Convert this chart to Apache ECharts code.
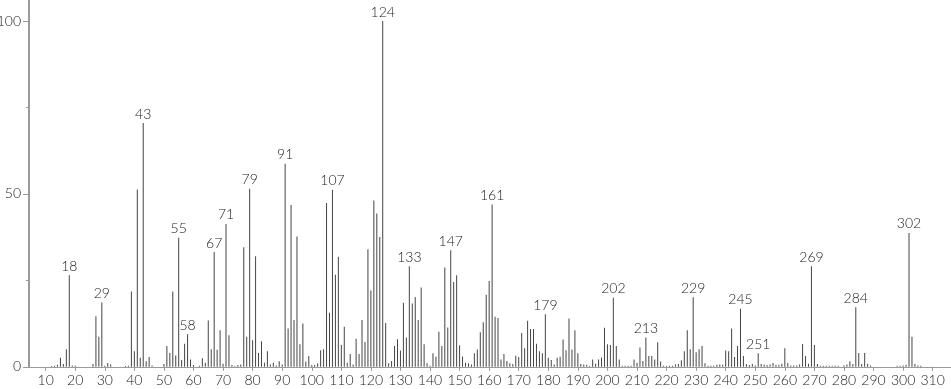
<!DOCTYPE html>
<html>
<head>
<meta charset="utf-8">
<script src="https://cdn.jsdelivr.net/npm/echarts@6/dist/echarts.min.js"></script>
<style>
html,body{margin:0;padding:0;background:#fff;}
#chart{width:951px;height:389px;}
</style>
</head>
<body>
<div id="chart"></div>
<script>
// m/z values
const mz = [12,13,14,15,16,17,18,19,20,26,27,28,29,30,31,32,37,38,39,40,41,42,43,44,45,46,
50,51,52,53,54,55,56,57,58,59,60,62,63,64,65,66,67,68,69,70,71,72,73,74,75,76,77,78,79,80,
81,82,83,84,85,86,87,88,89,90,91,92,93,94,95,96,97,98,99,100,101,102,103,104,105,106,107,108,109,110,
111,112,113,114,115,116,117,118,119,120,121,122,123,124,125,126,127,128,129,130,131,132,133,134,135,136,137,138,139,140,
141,142,143,144,145,146,147,148,149,150,151,152,153,154,155,156,157,158,159,160,161,162,163,164,165,166,167,168,169,170,
171,172,173,174,175,176,177,178,179,180,181,182,183,184,185,186,187,188,189,190,191,192,193,194,195,196,197,198,199,200,
201,202,203,204,205,206,207,208,209,210,211,212,213,214,215,216,217,218,219,220,221,222,223,224,225,226,227,228,229,230,
231,232,233,234,235,236,237,238,239,240,241,242,243,244,245,246,247,248,249,250,251,252,253,254,255,256,257,258,259,260,
261,262,263,264,265,266,267,268,269,270,271,272,273,274,275,276,277,278,280,281,282,283,284,285,286,287,288,289,
298,299,300,301,302,303,304,305,306];
// relative intensities (%)
const intensity = [0.2,0.3,0.6,2.6,0.8,5.1,26.5,0.4,0.3,0.8,14.6,8.7,18.6,0.3,1.1,0.7,0.2,0.3,21.8,4.5,51.3,2.6,70.5,1.6,2.8,0.4,
0.8,6.0,4.0,21.8,3.3,37.3,2.0,6.7,9.4,2.1,0.5,0.3,2.5,1.2,13.4,5.1,33.2,4.9,10.6,0.9,41.3,9.1,0.5,0.2,0.5,0.7,34.6,8.7,51.5,7.7,
32.0,4.0,7.4,1.2,4.5,0.7,1.2,0.4,1.6,0.7,58.7,11.1,46.8,13.5,37.7,6.5,12.5,1.5,3.1,0.5,0.5,1.0,4.8,5.1,47.4,15.6,51.2,26.6,31.8,6.3,
11.6,1.2,3.7,0.7,8.1,3.7,13.5,7.2,34.0,22.1,48.1,44.3,37.5,100,12.7,1.0,1.7,6.0,8.0,4.7,18.5,8.5,29.1,18.3,20.2,13.5,22.9,6.5,1.0,0.3,
3.9,2.9,10.1,6.0,28.7,11.4,33.7,24.5,26.5,6.2,3.0,1.2,1.0,0.7,3.9,5.0,10.0,12.9,20.8,24.8,46.9,14.5,14.1,2.1,3.7,1.7,1.0,0.8,3.2,2.8,
9.8,5.4,13.3,10.9,10.9,6.7,4.5,3.9,15.2,2.6,2.0,0.7,2.6,2.9,7.9,4.8,14.0,5.0,10.6,3.9,0.8,0.7,0.6,0.2,2.1,0.9,2.1,2.7,11.3,6.5,
6.3,20.0,6.0,2.1,0.3,0.3,0.3,0.3,2.1,1.2,5.6,1.7,8.5,3.1,3.1,2.1,7.1,1.5,0.3,0.2,0.3,0.3,0.7,0.8,1.9,4.5,10.6,5.1,20.1,4.2,
5.1,6.0,1.0,0.3,0.3,0.3,0.6,0.7,0.6,4.7,4.5,11.1,2.8,6.0,16.8,3.1,0.8,0.5,0.8,0.4,3.9,0.8,0.6,0.5,0.7,1.1,0.6,0.6,0.9,5.4,
1.1,0.4,0.4,0.4,0.7,6.6,3.1,0.9,29.1,6.3,0.8,0.3,0.3,0.3,0.3,0.3,0.3,0.3,0.4,0.7,1.6,0.8,17.2,4.0,0.8,4.0,0.9,0.4,
0.3,0.3,0.4,0.6,38.7,8.7,0.8,0.4,0.3];
// peaks carrying a label
const labeledPeaks = [18,29,43,55,58,67,71,79,91,107,124,133,147,161,179,202,213,229,245,251,269,284,302];
// axis tick labels
const xTicks = [10,20,30,40,50,60,70,80,90,100,110,120,130,140,150,160,170,180,190,200,210,220,230,240,250,260,270,280,290,300,310];
const yTicks = [0,50,100];
const yMinorTicks = [25,75];

const FONT = 'Lato';
const data = mz.map((m, i) => {
  const item = { value: [m, intensity[i]] };
  if (labeledPeaks.includes(m)) {
    item.label = { show: true };
  }
  return item;
});

const chart = echarts.init(document.getElementById('chart'), null, { renderer: 'canvas' });
chart.setOption({
  animation: false,
  backgroundColor: '#ffffff',
  grid: { left: 29, right: 0, top: 0, bottom: 22.2, containLabel: false, outerBoundsMode: 'none' },
  xAxis: {
    type: 'value',
    min: 4.37,
    max: 316.2,
    axisLine: { show: true, onZero: false, lineStyle: { color: '#9a9a9a', width: 1 } },
    axisTick: { show: true, length: 4, inside: false, customValues: xTicks, lineStyle: { color: '#9a9a9a' } },
    axisLabel: { show: true, customValues: xTicks, margin: 7, color: '#222', fontFamily: FONT, fontWeight: 300, fontSize: 14 },
    splitLine: { show: false }
  },
  yAxis: [{
    type: 'value',
    min: 0,
    max: 106.07,
    axisLine: { show: true, lineStyle: { color: '#9a9a9a', width: 2 } },
    axisTick: { show: true, length: 6, customValues: yTicks, lineStyle: { color: '#9a9a9a' } },
    axisLabel: { show: true, customValues: yTicks, margin: 8, color: '#222', fontFamily: FONT, fontWeight: 300, fontSize: 14 },
    splitLine: { show: false }
  }, {
    type: 'value',
    min: 0,
    max: 106.07,
    position: 'left',
    axisLine: { show: false },
    axisTick: { show: true, length: 3, customValues: yMinorTicks, lineStyle: { color: '#9a9a9a' } },
    axisLabel: { show: false },
    splitLine: { show: false }
  }],
  series: [{
    type: 'bar',
    yAxisIndex: 0,
    barWidth: 1,
    itemStyle: { color: '#444' },
    label: {
      show: false,
      position: 'top',
      distance: 2,
      color: '#222',
      fontFamily: FONT,
      fontWeight: 300,
      fontSize: 14,
      formatter: p => String(p.value[0])
    },
    data: data
  }]
});
</script>
</body>
</html>
